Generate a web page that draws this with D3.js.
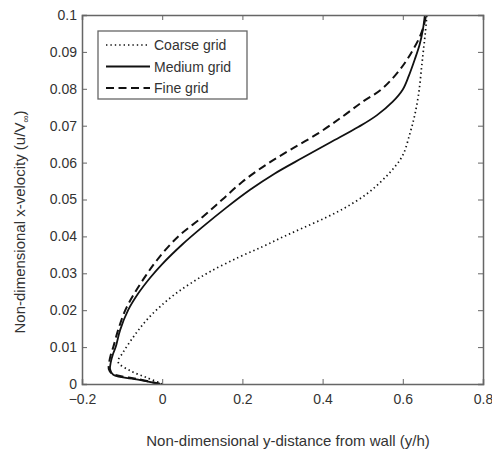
<!DOCTYPE html>
<html>
<head>
<meta charset="utf-8">
<script src="https://cdn.jsdelivr.net/npm/d3@7"></script>
<style>
  body { margin: 0; background: #fff; }
  svg text { font-family: "Liberation Sans", Arial, sans-serif; fill: #333; }
</style>
</head>
<body>
<div id="chart"></div>
<script>
// Velocity profiles for three grid resolutions (x = y/h, y = u/V∞)
const coarseX = [0, -0.04, -0.08, -0.11, -0.098, -0.08, -0.06, -0.035, -0.005, 0.03, 0.07, 0.12, 0.19, 0.25, 0.30, 0.351, 0.41, 0.46, 0.51, 0.545, 0.575, 0.6, 0.618, 0.63, 0.64, 0.647, 0.652, 0.656, 0.66];
const coarseY = [0, 0.0018, 0.0036, 0.006, 0.0085, 0.0115, 0.0145, 0.0178, 0.021, 0.0242, 0.0272, 0.0305, 0.0343, 0.0372, 0.0398, 0.0423, 0.0452, 0.048, 0.0515, 0.0548, 0.0582, 0.062, 0.068, 0.073, 0.079, 0.086, 0.091, 0.095, 0.1];

const mediumX = [-0.005, -0.06, -0.122, -0.13, -0.128, -0.123, -0.116, -0.105, -0.085, -0.06, -0.03, 0.0, 0.05, 0.1, 0.16, 0.22, 0.28, 0.35, 0.42, 0.49, 0.535, 0.575, 0.6, 0.615, 0.63, 0.642, 0.65, 0.655];
const mediumY = [0, 0.0012, 0.0025, 0.004, 0.006, 0.008, 0.010, 0.0146, 0.02, 0.0245, 0.0288, 0.0325, 0.0378, 0.0425, 0.0478, 0.0527, 0.057, 0.0613, 0.0655, 0.0697, 0.0728, 0.0765, 0.0798, 0.0835, 0.088, 0.092, 0.096, 0.1];

const fineX = [-0.005, -0.06, -0.125, -0.133, -0.132, -0.128, -0.122, -0.11, -0.092, -0.068, -0.04, -0.01, 0.04, 0.1, 0.15, 0.2, 0.26, 0.32, 0.39, 0.45, 0.5, 0.545, 0.58, 0.605, 0.625, 0.642, 0.652, 0.658];
const fineY = [0, 0.0013, 0.0028, 0.004, 0.006, 0.008, 0.010, 0.0146, 0.02, 0.0248, 0.0295, 0.034, 0.040, 0.0452, 0.05, 0.0548, 0.0595, 0.0635, 0.068, 0.0725, 0.0765, 0.0797, 0.0835, 0.087, 0.0905, 0.094, 0.097, 0.1];

const seriesNames = ['Coarse grid', 'Medium grid', 'Fine grid'];
const xTicks = [-0.2, 0, 0.2, 0.4, 0.6, 0.8];
const yTicks = [0, 0.01, 0.02, 0.03, 0.04, 0.05, 0.06, 0.07, 0.08, 0.09, 0.1];

const width = 492, height = 453;
const margin = { top: 15, right: 9, bottom: 69, left: 82 };

const svg = d3.select('#chart')
  .append('svg')
  .attr('width', width)
  .attr('height', height);

const x = d3.scaleLinear()
  .domain([-0.2, 0.8])
  .range([margin.left, width - margin.right]);
const y = d3.scaleLinear()
  .domain([0, 0.1])
  .range([height - margin.bottom, margin.top]);

const styles = [
  { dash: '1.4,3', w: 1.7 },
  { dash: null, w: 1.8 },
  { dash: '8,4.5', w: 2 }
];

const zip = (xs, ys) => xs.map((v, i) => [v, ys[i]]);
const series = [zip(coarseX, coarseY), zip(mediumX, mediumY), zip(fineX, fineY)];

const line = d3.line()
  .x(d => x(d[0]))
  .y(d => y(d[1]))
  .curve(d3.curveCatmullRom.alpha(0.5));

svg.append('g')
  .selectAll('path')
  .data(series)
  .join('path')
  .attr('d', line)
  .attr('fill', 'none')
  .attr('stroke', '#111')
  .attr('stroke-width', (d, i) => styles[i].w)
  .attr('stroke-dasharray', (d, i) => styles[i].dash);

// axes: ticks inward on all four sides
const axisColor = '#666';
const fmt = d => d === 0 ? '0' : d3.format('')(+d.toFixed(2));

const gB = svg.append('g')
  .attr('transform', `translate(0,${y(0)})`)
  .call(d3.axisBottom(x).tickValues(xTicks).tickSize(-5).tickPadding(10).tickFormat(fmt));
const gT = svg.append('g')
  .attr('transform', `translate(0,${y(0.1)})`)
  .call(d3.axisTop(x).tickValues(xTicks).tickSize(-5).tickFormat(''));
const gL = svg.append('g')
  .attr('transform', `translate(${x(-0.2)},0)`)
  .call(d3.axisLeft(y).tickValues(yTicks).tickSize(-5).tickPadding(5).tickFormat(fmt));
const gR = svg.append('g')
  .attr('transform', `translate(${x(0.8)},0)`)
  .call(d3.axisRight(y).tickValues(yTicks).tickSize(-5).tickFormat(''));

[gB, gT, gL, gR].forEach(g => {
  g.select('.domain').attr('stroke', axisColor).attr('stroke-width', 1.5);
  g.selectAll('.tick line').attr('stroke', axisColor);
  g.selectAll('.tick text')
    .attr('font-size', 14)
    .attr('fill', '#333')
    .style('font-family', '"Liberation Sans", Arial, sans-serif');
});

// axis titles
svg.append('text')
  .attr('x', 288)
  .attr('y', 446)
  .attr('text-anchor', 'middle')
  .attr('font-size', 15)
  .text('Non-dimensional y-distance from wall (y/h)');

const yl = svg.append('text')
  .attr('transform', `translate(25,222) rotate(-90)`)
  .attr('text-anchor', 'middle')
  .attr('font-size', 15);
yl.append('tspan').text('Non-dimensional x-velocity (u/V');
yl.append('tspan').attr('font-size', 10).attr('dy', 4).text('\u221E');
yl.append('tspan').attr('dy', -4).text(')');

// legend
const lg = svg.append('g').attr('transform', 'translate(98,31)');
lg.append('rect')
  .attr('width', 149)
  .attr('height', 68)
  .attr('fill', '#fff')
  .attr('stroke', axisColor)
  .attr('stroke-width', 1.3);
seriesNames.forEach((name, i) => {
  const yy = 14 + i * 21.5;
  lg.append('line')
    .attr('x1', 8).attr('x2', 52)
    .attr('y1', yy).attr('y2', yy)
    .attr('stroke', '#111')
    .attr('stroke-width', styles[i].w)
    .attr('stroke-dasharray', styles[i].dash);
  lg.append('text')
    .attr('x', 56)
    .attr('y', yy + 5)
    .attr('font-size', 14)
    .text(name);
});
</script>
</body>
</html>
